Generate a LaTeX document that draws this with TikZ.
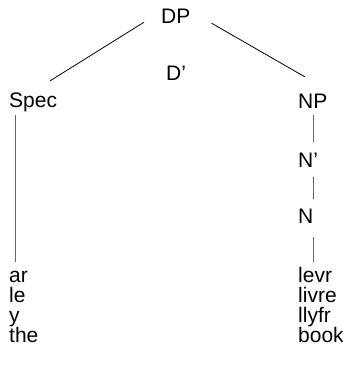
\documentclass[tikz,border=0pt]{standalone}
\usepackage{fontspec}
\setmainfont{Liberation Sans}
\usepackage{tikz}

\tikzset{
	cat/.style={anchor=base west,inner sep=0pt,text height=15pt,text depth=4pt,font=\fontsize{21}{25}\selectfont},
	branch/.style={draw=black,line width=0.8pt},
	stem/.style={draw=black!60,line width=1pt}
}

\begin{document}
	\begin{tikzpicture}[x=1pt,y=-1pt]
		\useasboundingbox (0,0) rectangle (343,373);
		
		\node[cat] (DP) at (161,23) {DP};
		\node[cat] (Dbar) at (166,80) {D'};
		\node[cat] (Spec) at (9,107) {Spec};
		\node[cat] (NP) at (298,108) {NP};
		\node[cat] (Nbar) at (298,167) {N'};
		\node[cat] (N) at (298,223) {N};
		
		\node[cat] (ar) at (9,282) {ar};
		\node[cat] (le) at (9,302) {le};
		\node[cat] (y) at (9,322) {y};
		\node[cat] (the) at (9,342) {the};
		\node[cat] (levr) at (298,282) {levr};
		\node[cat] (livre) at (298,302) {livre};
		\node[cat] (llyfr) at (298,322) {llyfr};
		\node[cat] (book) at (298,342) {book};
		
		\path[branch] ([xshift=-17pt,yshift=5pt]DP.south west) -- ([xshift=17pt,yshift=11pt]Spec.north);
		\path[branch] ([xshift=21pt,yshift=4pt]DP.south east) -- ([xshift=-8pt,yshift=16pt]NP.north);
		
		\path[stem,shorten <=4pt,shorten >=5pt] ([xshift=6pt]Spec.south west) -- ([xshift=6pt]ar.north west);
		\path[stem,shorten <=3pt,shorten >=10pt] ([xshift=15pt]NP.south west) -- ([xshift=15pt]Nbar.north west);
		\path[stem,shorten <=6pt,shorten >=9pt] ([xshift=15pt]Nbar.south west) -- ([xshift=15pt]N.north west);
		\path[stem,shorten <=10pt,shorten >=5pt] ([xshift=15pt]N.south west) -- ([xshift=15pt]levr.north west);
	\end{tikzpicture}
\end{document}
